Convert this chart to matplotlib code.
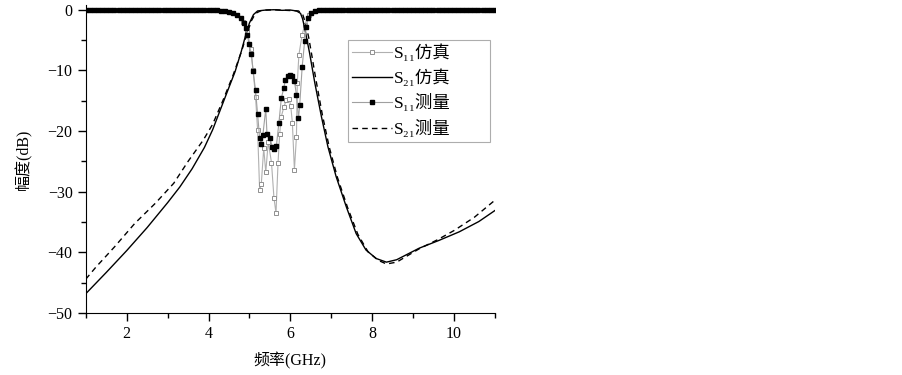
import matplotlib
matplotlib.use('Agg')
import matplotlib.pyplot as plt
from matplotlib.ticker import MultipleLocator

plt.rcParams['font.family'] = ['Liberation Serif', 'Noto Sans CJK SC', 'DejaVu Sans']
plt.rcParams['axes.unicode_minus'] = True

# S21 simulated
s21_sim_f = [1.0, 1.5, 2.0, 2.5, 3.0, 3.3, 3.6, 3.9, 4.1, 4.3, 4.5, 4.65, 4.8, 4.9, 5.0,
             5.1, 5.2, 5.4, 5.6, 5.8, 6.0, 6.15, 6.25, 6.3, 6.35, 6.47, 6.6, 6.76, 6.92,
             7.12, 7.37, 7.61, 7.85, 8.1, 8.35, 8.6, 9.15, 9.64, 10.13, 10.61, 11.0]
s21_sim_db = [-46.8, -43.3, -39.7, -35.9, -31.8, -29.2, -26.2, -22.7, -19.8, -16.3, -12.8,
              -10.2, -6.9, -4.4, -2.2, -0.8, -0.2, -0.05, 0.0, -0.1, -0.05, -0.2, -0.6,
              -1.5, -3.0, -7.1, -12.1, -17.6, -22.6, -27.5, -32.5, -36.9, -39.6, -41.0,
              -41.6, -41.2, -39.3, -38.0, -36.6, -34.9, -33.1]

# S21 measured
s21_meas_f = [1.0, 1.25, 1.7, 2.2, 2.7, 3.15, 3.5, 3.87, 4.1, 4.35, 4.6, 4.8, 4.95, 5.05,
              5.15, 5.3, 5.6, 5.9, 6.2, 6.3, 6.38, 6.45, 6.52, 6.62, 6.78, 6.95, 7.15, 7.4,
              7.65, 7.9, 8.15, 8.35, 8.6, 9.15, 9.6, 10.0, 10.5, 11.0]
s21_meas_db = [-44.4, -42.4, -39.1, -35.2, -31.9, -28.6, -25.0, -21.5, -18.9, -15.0, -10.8,
               -7.0, -3.8, -1.8, -0.6, -0.1, 0.0, -0.1, -0.2, -0.7, -2.4, -4.6, -7.3, -11.3,
               -17.2, -22.6, -27.6, -32.6, -37.0, -39.9, -41.3, -41.9, -41.6, -39.4, -37.9,
               -36.4, -34.2, -31.4]

# S11 simulated
s11_sim_f = [1.0, 4.5, 4.7, 4.85, 4.95, 5.03, 5.09, 5.15, 5.2, 5.25, 5.29, 5.35, 5.4, 5.46,
             5.54, 5.6, 5.65, 5.7, 5.74, 5.78, 5.84, 5.9, 5.97, 6.01, 6.05, 6.1, 6.15, 6.17,
             6.21, 6.29, 6.35, 6.45, 6.6, 11.0]
s11_sim_db = [0.0, -0.3, -0.9, -2.0, -3.5, -6.5, -10.0, -14.3, -19.8, -29.7, -28.8, -22.8,
              -26.8, -21.8, -25.2, -31.0, -33.5, -25.2, -20.5, -17.6, -16.1, -14.9, -14.7,
              -15.8, -18.6, -26.4, -20.9, -12.1, -7.4, -4.1, -2.5, -0.9, -0.2, 0.0]

# S11 measured: lower stopband, passband, upper stopband
s11_meas_lo_f = [1.0, 1.1, 1.2, 1.3, 1.4, 1.5, 1.6, 1.7, 1.8, 1.9, 2.0, 2.1, 2.2, 2.3,
                 2.4, 2.5, 2.6, 2.7, 2.8, 2.9, 3.0, 3.1, 3.2, 3.3, 3.4, 3.5, 3.6, 3.7,
                 3.8, 3.9, 4.0, 4.1, 4.2, 4.3, 4.4, 4.5]
s11_meas_lo_db = [0.0, 0.0, 0.0, 0.0, 0.0, 0.0, 0.0, 0.0, 0.0, 0.0, 0.0, 0.0, 0.0, 0.0,
                  0.0, 0.0, 0.0, 0.0, 0.0, 0.0, 0.0, 0.0, 0.0, 0.0, 0.0, 0.0, 0.0, 0.0,
                  0.0, 0.0, 0.0, -0.05, -0.1, -0.15, -0.2, -0.3]
s11_meas_pb_f = [4.6, 4.7, 4.8, 4.86, 4.91, 4.95, 4.99, 5.05, 5.09, 5.15, 5.2, 5.25, 5.29,
                 5.33, 5.4, 5.43, 5.5, 5.56, 5.6, 5.66, 5.72, 5.78, 5.84, 5.88, 5.94, 6.0,
                 6.05, 6.1, 6.15, 6.2, 6.23, 6.29, 6.35, 6.39, 6.43, 6.5]
s11_meas_pb_db = [-0.5, -0.8, -1.4, -2.2, -3.0, -4.1, -5.7, -7.3, -10.1, -13.3, -17.2,
                  -21.1, -22.2, -20.6, -16.3, -20.5, -21.1, -22.6, -23.0, -22.4, -18.7,
                  -14.6, -12.9, -11.6, -10.9, -10.7, -11.0, -11.8, -14.0, -17.9, -15.7,
                  -9.4, -5.2, -2.8, -1.4, -0.6]
s11_meas_hi_f = [6.6, 6.7, 6.8, 6.9, 7.0, 7.1, 7.2, 7.3, 7.4, 7.5, 7.6, 7.7, 7.8, 7.9,
                 8.0, 8.1, 8.2, 8.3, 8.4, 8.5, 8.6, 8.7, 8.8, 8.9, 9.0, 9.1, 9.2, 9.3,
                 9.4, 9.5, 9.6, 9.7, 9.8, 9.9, 10.0, 10.1, 10.2, 10.3, 10.4, 10.5, 10.6,
                 10.7, 10.8, 10.9, 11.0]
s11_meas_hi_db = [-0.2, -0.1, -0.05, 0.0, 0.0, 0.0, 0.0, 0.0, 0.0, 0.0, 0.0, 0.0, 0.0,
                  0.0, 0.0, 0.0, 0.0, 0.0, 0.0, 0.0, 0.0, 0.0, 0.0, 0.0, 0.0, 0.0, 0.0,
                  0.0, 0.0, 0.0, 0.0, 0.0, 0.0, 0.0, 0.0, 0.0, 0.0, 0.0, 0.0, 0.0, 0.0,
                  0.0, 0.0, 0.0, 0.0]
s11_meas_f = s11_meas_lo_f + s11_meas_pb_f + s11_meas_hi_f
s11_meas_db = s11_meas_lo_db + s11_meas_pb_db + s11_meas_hi_db

labels = ['S₁₁仿真', 'S₂₁仿真', 'S₁₁测量', 'S₂₁测量']

fig = plt.figure(figsize=(9.03, 3.75), dpi=100)
ax = fig.add_axes([0.095, 0.165, 0.453, 0.822])

ax.plot(s11_sim_f, s11_sim_db, color='#b0b0b0', lw=0.8, marker='s', ms=3.2,
        mfc='white', mec='#909090', mew=0.7, label=labels[0], zorder=2)
ax.plot(s21_sim_f, s21_sim_db, color='black', lw=1.0, label=labels[1], zorder=3)
ax.plot(s11_meas_f, s11_meas_db, color='#a0a0a0', lw=0.8, marker='s', ms=3.2,
        mfc='black', mec='black', label=labels[2], zorder=4)
ax.plot(s21_meas_f, s21_meas_db, color='black', lw=1.0, ls=(0, (4, 3)),
        label=labels[3], zorder=3)

ax.set_xlim(1, 11)
ax.set_ylim(-50, 0.8)
ax.xaxis.set_major_locator(MultipleLocator(2))
ax.xaxis.set_minor_locator(MultipleLocator(1))
ax.yaxis.set_major_locator(MultipleLocator(10))
ax.yaxis.set_minor_locator(MultipleLocator(5))
ax.tick_params(which='major', direction='out', length=6, width=1, labelsize=11.5)
ax.tick_params(which='minor', direction='out', length=3.5, width=1)
ax.spines['top'].set_visible(False)
ax.spines['right'].set_visible(False)

ax.set_xlabel('频率(GHz)', fontsize=11.5, labelpad=7)
ax.set_ylabel('幅度(dB)', fontsize=11.5, labelpad=11)

leg = ax.legend(loc='upper left', bbox_to_anchor=(0.64, 0.55, 0.348, 0.335),
                mode='expand', fontsize=12.5, frameon=True, fancybox=False,
                handlelength=2.3, handletextpad=0.1, borderpad=0.25,
                labelspacing=0.42, borderaxespad=0)
leg.get_frame().set_edgecolor('#999999')
leg.get_frame().set_linewidth(0.8)

fig.savefig('out.png', dpi=100)
